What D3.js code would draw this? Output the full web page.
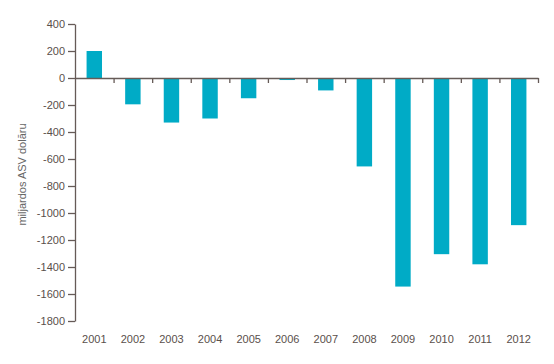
<!DOCTYPE html>
<html>
<head>
<meta charset="utf-8">
<script src="https://cdn.jsdelivr.net/npm/d3@7"></script>
<style>
  body { margin: 0; background: #fff; }
  svg text { font-family: "Liberation Sans", Arial, sans-serif; }
</style>
</head>
<body>
<svg id="chart" width="554" height="364"></svg>
<script>
// Data (billions USD)
const years = ["2001", "2002", "2003", "2004", "2005", "2006", "2007", "2008", "2009", "2010", "2011", "2012"];
const values = [200, -195, -330, -300, -150, -15, -92, -655, -1545, -1305, -1380, -1090];
const yTicks = [400, 200, 0, -200, -400, -600, -800, -1000, -1200, -1400, -1600, -1800];
const yLabel = "miljardos ASV dolāru";

const axisColor = "#665b57",
	textColor = "#5a4f4b",
	barColor = "#00abc6";

const svg = d3.select("#chart");
const plot = {left: 75, right: 538, top: 24, bottom: 321};

const x = d3.scaleBand()
	.domain(years)
	.range([plot.left, plot.right])
	.paddingInner(0.6)
	.paddingOuter(0.3);

// boundary scale for the category ticks
const xEdge = d3.scaleLinear().domain([0, years.length]).range([plot.left, plot.right]);

const y = d3.scaleLinear()
	.domain([-1800, 400])
	.range([plot.bottom, plot.top]);

// bars
svg.append("g")
	.selectAll("rect")
	.data(values)
	.join("rect")
	.attr("x", (d, i) => x(years[i]))
	.attr("width", x.bandwidth())
	.attr("y", d => y(Math.max(0, d)))
	.attr("height", d => Math.abs(y(d) - y(0)))
	.attr("fill", barColor);

// y axis
const yAxis = svg.append("g")
	.attr("transform", `translate(${plot.left},0)`)
	.call(d3.axisLeft(y).tickValues(yTicks).tickSize(7).tickSizeOuter(0).tickPadding(3)
		.tickFormat(d => String(d)));

// x axis at zero: ticks between categories
const xAxis = svg.append("g")
	.attr("transform", `translate(0,${y(0)})`)
	.call(d3.axisBottom(xEdge).tickValues(d3.range(1, years.length + 1)).tickSize(5).tickSizeOuter(0).tickFormat(""));

// year labels at bottom
const xLabels = svg.append("g")
	.attr("transform", `translate(0,326)`)
	.call(d3.axisBottom(x).tickSize(0).tickPadding(9));
xLabels.select(".domain").remove();

[yAxis, xAxis].forEach(g => {
	g.select(".domain").attr("stroke", axisColor).attr("stroke-width", 1.3);
	g.selectAll(".tick line").attr("stroke", axisColor).attr("stroke-width", 1.3);
});
[yAxis, xLabels].forEach(g => {
	g.selectAll(".tick text").attr("fill", textColor).style("font-size", "11px");
});

// y axis title
svg.append("text")
	.attr("transform", `translate(26,${(plot.top + plot.bottom) / 2 + 2}) rotate(-90)`)
	.attr("text-anchor", "middle")
	.attr("fill", "#666")
	.style("font-size", "11px")
	.text(yLabel);
</script>
</body>
</html>
